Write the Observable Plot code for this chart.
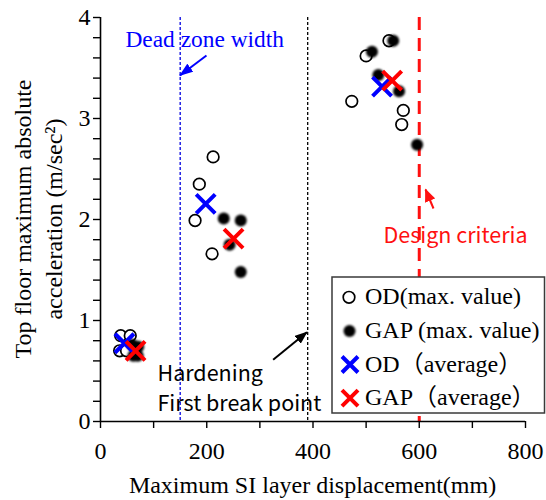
<!DOCTYPE html>
<html>
<head>
<meta charset="utf-8">
<script src="https://cdn.jsdelivr.net/npm/d3@7"></script>
<script src="https://cdn.jsdelivr.net/npm/@observablehq/plot@0.6"></script>
<style>
  body { margin: 0; background: #fff; }
  #chart { width: 546px; height: 500px; }
</style>
</head>
<body>
<div id="chart"></div>
<script>
// Maximum values per run: SI layer displacement (mm) vs top-floor acceleration (m/s²)
const odDisp  = [38, 56, 36, 49, 212, 186, 178, 210, 543, 500, 473, 570, 567];
const odAcc   = [0.85, 0.85, 0.70, 0.70, 2.62, 2.35, 1.99, 1.66, 3.77, 3.62, 3.17, 3.08, 2.94];
const gapDisp = [60, 71, 62, 70, 232, 264, 243, 264, 551, 511, 523, 562, 596];
const gapAcc  = [0.76, 0.74, 0.65, 0.65, 2.01, 1.99, 1.75, 1.48, 3.77, 3.66, 3.43, 3.27, 2.74];

// Averages per excitation level
const odAvgDisp  = [45, 198, 530];
const odAvgAcc   = [0.775, 2.155, 3.315];
const gapAvgDisp = [66, 250.5, 549];
const gapAvgAcc  = [0.70, 1.81, 3.375];

// Reference displacements (mm)
const deadZone = [150];
const firstBreak = [390];
const designCriteria = [600];

// Axis ticks
const xTicks = [0, 100, 200, 300, 400, 500, 600, 700, 800];
const xLabelled = [0, 200, 400, 600, 800];
const yTicks = d3.range(0, 21).map(i => i / 5);
const yLabelled = [0, 1, 2, 3, 4];

const legendLabels = ["OD(max. value)", "GAP (max. value)", "OD（average）", "GAP（average）"];
const gothicNotes = ["Hardening", "First break point", "Design criteria"];

const toRows = (xs, ys) => xs.map((x, i) => ({x, y: ys[i]}));
const odMax = toRows(odDisp, odAcc);
const gapMax = toRows(gapDisp, gapAcc);
const odAvg = toRows(odAvgDisp, odAvgAcc);
const gapAvg = toRows(gapAvgDisp, gapAvgAcc);

const serif = "'Liberation Serif', 'Times New Roman', 'Noto Sans CJK JP', serif";
const gothic = "'Noto Sans CJK JP', 'Noto Sans', sans-serif";

const plot = Plot.plot({
  width: 546,
  height: 500,
  marginLeft: 100,
  marginRight: 21,
  marginTop: 17,
  marginBottom: 79,
  style: {fontSize: "24px", color: "black", background: "white", overflow: "visible"},
  x: {domain: [0, 800]},
  y: {domain: [0, 4]},
  marks: [
    // reference lines
    Plot.ruleX(deadZone, {stroke: "#0000e0", strokeWidth: 1.3, strokeDasharray: "3,2"}),
    Plot.ruleX(firstBreak, {stroke: "black", strokeWidth: 1.3, strokeDasharray: "3,2"}),
    Plot.ruleX(designCriteria, {stroke: "#ff1010", strokeWidth: 3, strokeDasharray: "13,8"}),

    // axes
    Plot.axisX({ticks: xTicks, tickFormat: d => xLabelled.includes(d) ? String(d) : "",
                tickSize: 7, tickPadding: 13, strokeWidth: 1.4, label: null, fontSize: 24}),
    Plot.axisY({ticks: yTicks, tickFormat: d => yLabelled.includes(d) ? String(d) : "",
                tickSize: 7, tickPadding: 3, strokeWidth: 1.4, label: null, fontSize: 24}),
    Plot.ruleY([0], {stroke: "black", strokeWidth: 1.6}),
    Plot.ruleX([0], {stroke: "black", strokeWidth: 1.6}),

    // data
    Plot.dot(odMax, {x: "x", y: "y", r: 5.8, stroke: "black", strokeWidth: 1.7, fill: "white"}),
    Plot.dot(gapMax, {x: "x", y: "y", r: 6, fill: "black", stroke: "none"}),
    Plot.dot(odAvg, {x: "x", y: "y", symbol: "times", r: 8.7, stroke: "#0000ff", strokeWidth: 4}),
    Plot.dot(gapAvg, {x: "x", y: "y", symbol: "times", r: 8.7, stroke: "#ff0000", strokeWidth: 4}),

    // annotations
    Plot.text([{x: 47, y: 3.787, t: "Dead zone width"}],
      {x: "x", y: "y", text: "t", textAnchor: "start", fill: "#0000ff", fontSize: 23.4}),
    Plot.link([{x1: 199.5, y1: 3.624, x2: 149.5, y2: 3.426}],
      {x1: "x1", y1: "y1", x2: "x2", y2: "y2", stroke: "#0000ff", strokeWidth: 2}),
    Plot.text([{x: 107.3, y: 0.465, t: "Hardening"}, {x: 107.3, y: 0.172, t: "First break point"}],
      {x: "x", y: "y", text: "t", textAnchor: "start", fill: "black", fontSize: 21.5}),
    Plot.link([{x1: 325, y1: 0.611, x2: 388.5, y2: 0.884}],
      {x1: "x1", y1: "y1", x2: "x2", y2: "y2", stroke: "black", strokeWidth: 2}),
    Plot.text([{x: 532.7, y: 1.837, t: "Design criteria"}],
      {x: "x", y: "y", text: "t", textAnchor: "start", fill: "#ff1010", fontSize: 21.5}),
    Plot.link([{x1: 626.8, y1: 2.109, x2: 611.8, y2: 2.297}],
      {x1: "x1", y1: "y1", x2: "x2", y2: "y2", stroke: "#ff1010", strokeWidth: 2})
  ]
});

document.getElementById("chart").appendChild(plot);

// typefaces: gothic for the hardening / criteria notes, serif everywhere else
plot.querySelectorAll("text").forEach(t => {
  t.style.fontFamily = gothicNotes.includes(t.textContent) ? gothic : serif;
});

const svg = d3.select(plot);
const defs = svg.insert("defs", ":first-child");
defs.append("filter").attr("id", "soft").attr("x", "-50%").attr("y", "-50%").attr("width", "200%").attr("height", "200%")
  .append("feGaussianBlur").attr("stdDeviation", 0.8);

// filled arrowheads
const heads = [["head-blue", "#0000ff", 14, 10], ["head-black", "black", 13, 10], ["head-red", "#ff1010", 13, 11]];
for (const [id, color, len, wid] of heads) {
  defs.append("marker").attr("id", id)
    .attr("viewBox", `0 0 ${len} ${wid}`).attr("refX", len - 1).attr("refY", wid / 2)
    .attr("markerWidth", len).attr("markerHeight", wid)
    .attr("markerUnits", "userSpaceOnUse").attr("orient", "auto")
    .append("path").attr("d", `M0,0L${len},${wid / 2}L0,${wid}Z`).attr("fill", color);
}
[...plot.querySelectorAll('g[aria-label="link"]')].forEach((g, i) => {
  g.querySelectorAll("path").forEach(p => p.setAttribute("marker-end", `url(#${heads[i][0]})`));
});

// soften the filled markers
const dotGroups = plot.querySelectorAll('g[aria-label="dot"]');
dotGroups[1].setAttribute("filter", "url(#soft)");

// axis titles
svg.append("text")
  .attr("x", 312.5).attr("y", 492.5).attr("text-anchor", "middle")
  .style("font-family", serif).style("font-size", "24px").attr("fill", "black")
  .text("Maximum SI layer displacement(mm)");
const yTitle = svg.append("text")
  .attr("transform", "translate(31,219) rotate(-90)").attr("text-anchor", "middle")
  .style("font-family", serif).style("font-size", "24px").attr("fill", "black");
yTitle.append("tspan").attr("x", 0).attr("dy", 0).text("Top floor maximum absolute");
yTitle.append("tspan").attr("x", 0).attr("dy", 31).text("acceleration (m/sec²)");

// legend
const lg = svg.append("g");
lg.append("rect").attr("x", 332).attr("y", 277).attr("width", 212.5).attr("height", 136)
  .attr("fill", "white").attr("stroke", "#3a3a3a").attr("stroke-width", 1.5);
const rowBase = [304.3, 337.9, 371.5, 405.1];
const rowMid = rowBase.map(b => b - 7);
lg.append("circle").attr("cx", 349).attr("cy", rowMid[0]).attr("r", 5.8)
  .attr("fill", "white").attr("stroke", "black").attr("stroke-width", 1.7);
lg.append("circle").attr("cx", 349.5).attr("cy", rowMid[1]).attr("r", 6)
  .attr("fill", "black").attr("filter", "url(#soft)");
[["#0000ff", rowMid[2]], ["#ff0000", rowMid[3]]].forEach(([c, cy]) => {
  const h = 8;
  lg.append("path").attr("d", `M${350 - h},${cy - h}L${350 + h},${cy + h}M${350 - h},${cy + h}L${350 + h},${cy - h}`)
    .attr("stroke", c).attr("stroke-width", 4).attr("fill", "none");
});
legendLabels.forEach((label, i) => {
  lg.append("text").attr("x", 365).attr("y", rowBase[i]).attr("text-anchor", "start")
    .style("font-family", serif).style("font-size", "24px").attr("fill", "black").text(label);
});
</script>
</body>
</html>
